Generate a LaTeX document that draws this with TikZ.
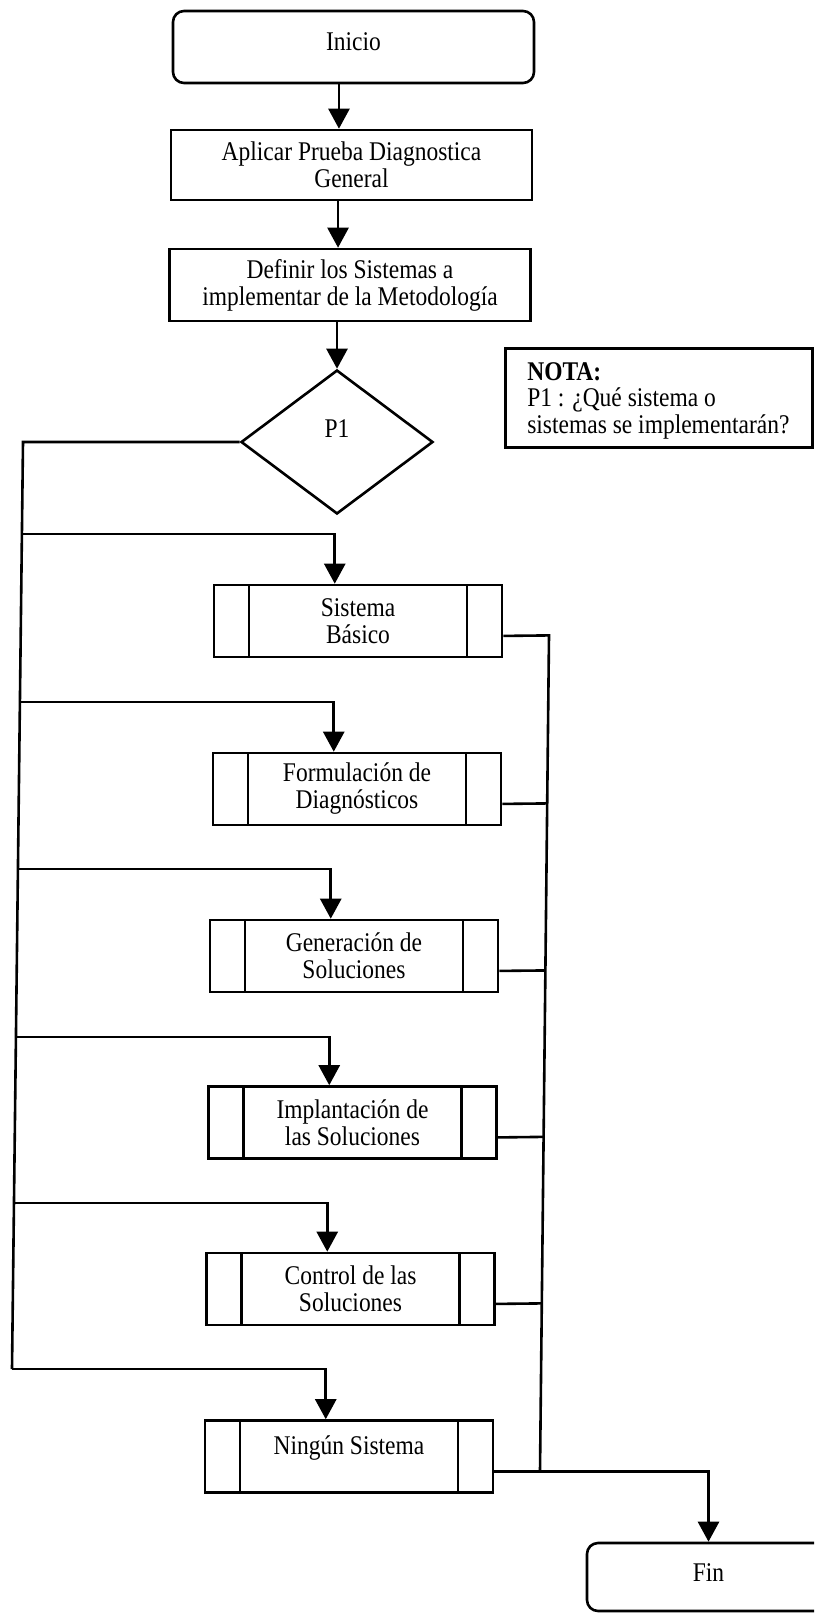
\documentclass[tikz,border=0pt]{standalone}
\usepackage{fontspec}
\setmainfont[FakeStretch=0.87]{Liberation Serif}
\usetikzlibrary{shapes.geometric,arrows.meta,calc}
\begin{document}
\begin{tikzpicture}[x=1pt,y=-1pt,
  line width=2.6pt,
  font=\fontsize{27}{27}\selectfont,
  box/.style={draw, rectangle, minimum width=361pt, minimum height=72pt, align=center, inner sep=0pt},
  term/.style={box, rounded corners=11pt},
  subbox/.style={box, minimum width=288pt, path picture={
      \draw[line width=2.6pt] ([xshift=35pt]path picture bounding box.north west) -- ([xshift=35pt]path picture bounding box.south west);
      \draw[line width=2.6pt] ([xshift=-35pt]path picture bounding box.north east) -- ([xshift=-35pt]path picture bounding box.south east);}},
  decision/.style={draw, diamond, minimum width=192pt, minimum height=144pt, inner sep=0pt},
  notebox/.style={draw, rectangle, minimum width=307pt, minimum height=99pt, inner sep=0pt},
  arr/.style={-{Triangle[length=20pt,width=21pt]}}]
\useasboundingbox (0,0) rectangle (814,1613);
\fill[white] (0,0) rectangle (814,1613);
\clip (0,0) rectangle (814,1613);

% main column
\node[term] (ini) at (353.5,47) {\raisebox{10pt}{Inicio}};
\node[box, minimum height=70pt] (apl) at (351.5,165) {Aplicar Prueba Diagnostica\\General};
\node[box] (def) at (350,285) {Definir los Sistemas a\\implementar de la Metodología};
\node[decision] (p1) at (337,442) {\raisebox{26pt}{P1}};

% note
\node[notebox, anchor=north west] (nota) at (504,347) {};
\node[anchor=north west, align=left, inner sep=0pt, font=\fontsize{27}{26.5}\selectfont] (notatxt) at (526,361)
  {\textbf{NOTA:}\\P1 : ¿Qué sistema o\\sistemas se implementarán?};

% subprocesses
\node[subbox] (sb) at (358,621) {Sistema\\Básico};
\node[subbox] (fd) at (357,789) {Formulación de\\Diagnósticos};
\node[subbox] (gs) at (354,956) {Generación de\\Soluciones};
\node[subbox] (is) at (352.5,1122.5) {Implantación de\\las Soluciones};
\node[subbox] (cs) at (350.5,1289) {Control de las\\Soluciones};
\node[subbox] (ns) at (349,1456.5) {\raisebox{23pt}{Ningún Sistema}};

\node[term, minimum width=243pt, minimum height=68pt] (fin) at (708.5,1577) {\raisebox{8pt}{Fin}};

% main arrows
\coordinate (a1) at ($(ini.south west)!0.46!(ini.south east)$);
\draw[arr] (a1) -- (a1 |- apl.north);
\coordinate (a2) at ($(apl.south west)!0.463!(apl.south east)$);
\draw[arr] (a2) -- (a2 |- def.north);
\draw[arr] (p1.north |- def.south) -- (p1.north);

% left bus
\coordinate (L0) at (23,442);
\coordinate (L6) at (12,1369);
\draw (p1.west) -- (L0) -- (L6);
\coordinate (L1) at ($(L0)!0.0992!(L6)$);
\coordinate (L2) at ($(L0)!0.2805!(L6)$);
\coordinate (L3) at ($(L0)!0.4606!(L6)$);
\coordinate (L4) at ($(L0)!0.6419!(L6)$);
\coordinate (L5) at ($(L0)!0.8209!(L6)$);
\draw[arr] (L1) -| ($(sb.north west)!0.42!(sb.north east)$);
\draw[arr] (L2) -| ($(fd.north west)!0.42!(fd.north east)$);
\draw[arr] (L3) -| ($(gs.north west)!0.42!(gs.north east)$);
\draw[arr] (L4) -| ($(is.north west)!0.42!(is.north east)$);
\draw[arr] (L5) -| ($(cs.north west)!0.42!(cs.north east)$);
\draw[arr] (L6) -| ($(ns.north west)!0.42!(ns.north east)$);

% right bus
\coordinate (sbR) at ($(sb.north east)!0.7!(sb.south east)$);
\coordinate (fdR) at ($(fd.north east)!0.7!(fd.south east)$);
\coordinate (gsR) at ($(gs.north east)!0.7!(gs.south east)$);
\coordinate (isR) at ($(is.north east)!0.7!(is.south east)$);
\coordinate (csR) at ($(cs.north east)!0.7!(cs.south east)$);
\coordinate (nsR) at ($(ns.north east)!0.7!(ns.south east)$);
\coordinate (RT) at (549,635.4);
\coordinate (RB) at (540,1470.9);
\draw (sbR) -- (RT) -- (RB);
\draw (fdR) -- ($(RT)!0.2011!(RB)$);
\draw (gsR) -- ($(RT)!0.401!(RB)$);
\draw (isR) -- ($(RT)!0.6002!(RB)$);
\draw (csR) -- ($(RT)!0.7995!(RB)$);
\draw[arr] (nsR) -| (fin.north);
\end{tikzpicture}
\end{document}
